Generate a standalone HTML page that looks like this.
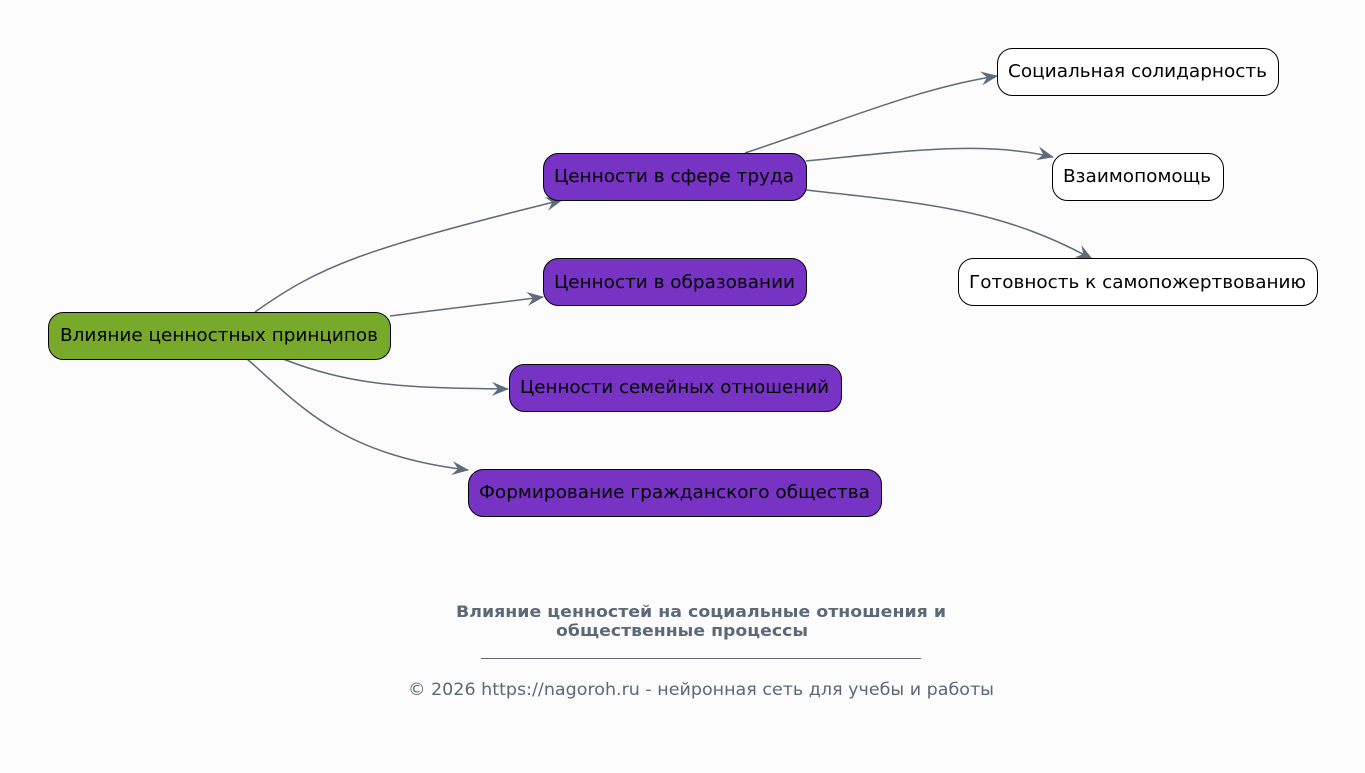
<!DOCTYPE html>
<html><head><meta charset="utf-8"><style>
html,body{margin:0;padding:0;background:#fcfcfd;}
svg{display:block;font-family:"DejaVu Sans","Liberation Sans",sans-serif;}
</style></head><body>
<svg width="1365" height="773" viewBox="0 0 1365 773" xmlns="http://www.w3.org/2000/svg">
<defs>
<marker id="a" markerWidth="18" markerHeight="14" refX="16" refY="7" orient="auto" markerUnits="userSpaceOnUse">
<path d="M0,0 L17,7 L0,14 L6,7 Z" fill="#5e6b7a"/>
</marker>
</defs>
<rect width="1365" height="773" fill="#fcfcfd"/>
<g fill="none" stroke="#5e6b7a" stroke-width="1.5">
<path d="M255,312 C320,266 360,250 562,200" marker-end="url(#a)"/>
<path d="M390,316 L543,297" marker-end="url(#a)"/>
<path d="M283,359 C350,385 400,388 508,389" marker-end="url(#a)"/>
<path d="M247,359 C300,405 340,455 468,470" marker-end="url(#a)"/>
<path d="M745,153 C850,118 920,88 997,76" marker-end="url(#a)"/>
<path d="M806,161 C900,152 980,140 1053,157" marker-end="url(#a)"/>
<path d="M806,190 C920,203 1000,208 1092,259" marker-end="url(#a)"/>
</g>
<g stroke="#000" stroke-width="1">
<rect x="48.5" y="312.5" width="342" height="47" rx="15" fill="#79a92b"/>
<rect x="543.5" y="153.5" width="263" height="47" rx="15" fill="#7733c4"/>
<rect x="543.5" y="258.5" width="263" height="47" rx="15" fill="#7733c4"/>
<rect x="509.5" y="364.5" width="332" height="47" rx="15" fill="#7733c4"/>
<rect x="468.5" y="469.5" width="413" height="47" rx="15" fill="#7733c4"/>
<rect x="997.5" y="48.5" width="281" height="47" rx="15" fill="#fff"/>
<rect x="1052.5" y="153.5" width="171" height="47" rx="15" fill="#fff"/>
<rect x="958.5" y="258.5" width="359" height="47" rx="15" fill="#fff"/>
</g>
<g font-size="18" fill="#000" lengthAdjust="spacingAndGlyphs">
<text x="60" y="341" textLength="318" lengthAdjust="spacingAndGlyphs">Влияние ценностных принципов</text>
<text x="554" y="182" textLength="240" lengthAdjust="spacingAndGlyphs">Ценности в сфере труда</text>
<text x="554" y="288" textLength="241" lengthAdjust="spacingAndGlyphs">Ценности в образовании</text>
<text x="520" y="393" textLength="309" lengthAdjust="spacingAndGlyphs">Ценности семейных отношений</text>
<text x="479" y="498" textLength="391" lengthAdjust="spacingAndGlyphs">Формирование гражданского общества</text>
<text x="1008" y="77" textLength="259" lengthAdjust="spacingAndGlyphs">Социальная солидарность</text>
<text x="1063" y="182" textLength="148" lengthAdjust="spacingAndGlyphs">Взаимопомощь</text>
<text x="969" y="288" textLength="337" lengthAdjust="spacingAndGlyphs">Готовность к самопожертвованию</text>
</g>
<g fill="#5a6878">
<text x="456" y="617" font-size="16" font-weight="bold" textLength="490" lengthAdjust="spacingAndGlyphs">Влияние ценностей на социальные отношения и</text>
<text x="556" y="636" font-size="16" font-weight="bold" textLength="252" lengthAdjust="spacingAndGlyphs">общественные процессы</text>
<line x1="481" y1="658.5" x2="921" y2="658.5" stroke="#5a6878" stroke-width="1"/>
<text x="408" y="695" font-size="17" textLength="586" lengthAdjust="spacingAndGlyphs">© 2026 https://nagoroh.ru - нейронная сеть для учебы и работы</text>
</g>
</svg>
</body></html>
